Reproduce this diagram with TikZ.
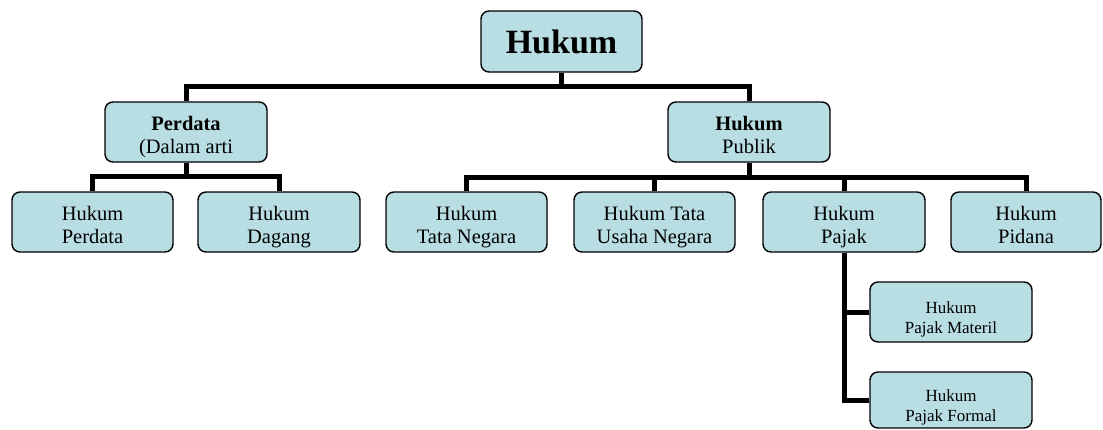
\documentclass[tikz,border=0pt]{standalone}
\usepackage{fontspec}
\setmainfont{Liberation Serif}
\usepackage{tikz}

\definecolor{boxfill}{RGB}{184,222,227}

\tikzset{
  BoxStyle/.style = {draw = black, line width = 1.4pt, fill = boxfill,
                     rounded corners = 8pt, align = center, inner sep = 0pt,
                     minimum width = 161pt, minimum height = 60pt,
                     font = \fontsize{20.5}{23}\selectfont,
                     execute at begin node = \rule{0pt}{46.6pt},
                     execute at end node = \rule[-4.6pt]{0pt}{0pt}},
  RootBox/.style  = {draw = black, line width = 1.4pt, fill = boxfill,
                     rounded corners = 8pt, inner sep = 0pt,
                     minimum width = 161pt, minimum height = 61pt,
                     font = \fontsize{34}{38}\selectfont\bfseries},
  SmallBox/.style = {BoxStyle, minimum width = 162pt,
                     font = \fontsize{17}{20}\selectfont,
                     execute at begin node = \rule{0pt}{38pt},
                     execute at end node = \rule[-4pt]{0pt}{0pt}},
  TreeEdge/.style = {draw = black, line width = 5pt, line join = miter}
}

\begin{document}
\begin{tikzpicture}[x=1pt,y=-1pt]

\useasboundingbox (0,0) rectangle (1103,429);

\node[RootBox] (hukum) at (561.5,41.5) {Hukum};

\node[BoxStyle, minimum width = 162pt] (perdata) at (186,132) {\textbf{Perdata}\\(Dalam arti};
\node[BoxStyle, minimum width = 162pt] (publik) at (749,132) {\textbf{Hukum}\\Publik};

\node[BoxStyle] (hperdata) at (92.5,222) {Hukum\\Perdata};
\node[BoxStyle, minimum width = 162pt] (hdagang) at (279,222) {Hukum\\Dagang};
\node[BoxStyle] (htatanegara) at (466.5,222) {Hukum\\Tata Negara};
\node[BoxStyle] (htatausaha) at (654.5,222) {Hukum Tata\\Usaha Negara};
\node[BoxStyle, minimum width = 162pt] (hpajak) at (844,222) {Hukum\\Pajak};
\node[BoxStyle, minimum width = 150pt] (hpidana) at (1026,222) {Hukum\\Pidana};

\node[SmallBox] (pmateril) at (951,312) {Hukum\\Pajak Materil};
\node[SmallBox, minimum height = 56pt] (pformal) at (951,400) {Hukum\\Pajak Formal};

\coordinate (j0) at (561.5,86.5);
\coordinate (j1) at (186,176);
\coordinate (j2) at (749,177);

\draw[TreeEdge] (hukum) -- (j0);
\draw[TreeEdge] (j0) -| (perdata);
\draw[TreeEdge] (j0) -| (publik);

\draw[TreeEdge] (perdata) -- (j1);
\draw[TreeEdge] (j1) -| (hperdata);
\draw[TreeEdge] (j1) -| (hdagang);

\draw[TreeEdge] (publik) -- (j2);
\draw[TreeEdge] (j2) -| (htatanegara);
\draw[TreeEdge] (j2) -| (htatausaha);
\draw[TreeEdge] (j2) -| (hpajak);
\draw[TreeEdge] (j2) -| (hpidana);

\draw[TreeEdge] (hpajak) -- (hpajak |- pformal) -- (pformal);
\draw[TreeEdge] (hpajak |- pmateril) -- (pmateril);

\end{tikzpicture}
\end{document}
